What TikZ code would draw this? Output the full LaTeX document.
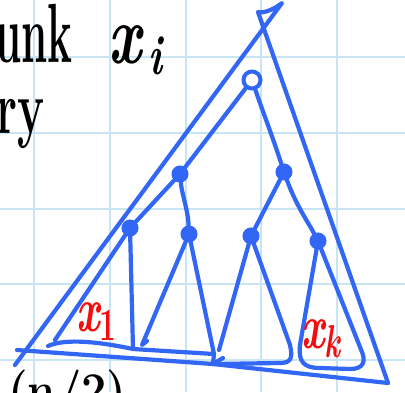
\documentclass[tikz,border=0pt]{standalone}
\usepackage{fontspec}
\usepackage{graphicx}
\definecolor{penblue}{RGB}{50,102,245}
\definecolor{gridblue}{RGB}{200,229,246}
\definecolor{penred}{RGB}{245,12,12}
\begin{document}
\begin{tikzpicture}[x=1pt,y=-1pt,
  gridline/.style={draw=gridblue,line width=2pt},
  pen/.style={draw=penblue,line width=4.2pt,line cap=round,line join=round},
  treenode/.style={circle,draw=penblue,fill=penblue,line width=4pt,inner sep=0pt,minimum size=13pt},
  rootnode/.style={circle,draw=penblue,line width=4pt,inner sep=0pt,minimum size=17pt},
  ink/.style={inner sep=0pt,text=black},
  redlabel/.style={inner sep=0pt,text=penred,font=\fontsize{64}{64}\selectfont\bfseries\itshape}]
\useasboundingbox (0,0) rectangle (405,392);
\clip (0,0) rectangle (405,392);
% grid paper
\foreach \gx in {34,110,186,261,337} \draw[gridline] (\gx,0) -- (\gx,392);
\foreach \gy in {57,133,209,284,360} \draw[gridline] (0,\gy) -- (405,\gy);
% handwritten black text
\node[ink,anchor=base east,font=\fontsize{84}{84}\selectfont\bfseries] (unk) at (73,62) {\scalebox{0.5}[1]{unk}};
\node[ink,anchor=base west,font=\fontsize{84}{84}\selectfont\bfseries\itshape] (xi) at (108,63) {\scalebox{0.7}[1]{x\hspace{10pt}\raisebox{-11pt}{\fontsize{56}{56}\selectfont i}}};
\node[ink,anchor=base east,font=\fontsize{76}{76}\selectfont\bfseries] (ry) at (45,133) {\scalebox{0.6}[1]{ry}};
\node[ink,anchor=base west,font=\fontsize{50}{50}\selectfont\bfseries] (half) at (8,407) {\scalebox{0.9}[1]{(n/2)}};
% big triangle
\coordinate (bl) at (15,365);
\coordinate (apl) at (282,3);
\coordinate (apr) at (258,12);
\coordinate (br) at (388,383);
\coordinate (bs) at (17,350);
\coordinate (bm) at (213,364);
\draw[pen] (bl) -- (apl) .. controls (276,8) and (264,14) .. (apr) -- (br);
\draw[pen] (bs) -- (bm) -- (br);
% tree nodes
\node[rootnode] (r) at (252,80) {};
\node[treenode] (a) at (180,174) {};
\node[treenode] (b) at (284,172) {};
\node[treenode] (A) at (130,228) {};
\node[treenode] (B) at (189,234) {};
\node[treenode] (C) at (251,236) {};
\node[treenode] (D) at (318,241) {};
% tree edges
\draw[pen] (r) -- (a);
\draw[pen] (r) .. controls (264,115) and (272,135) .. (b);
\draw[pen] (a) -- (A);
\draw[pen] (a) .. controls (182,195) and (188,210) .. (B);
\draw[pen] (b) -- (C);
\draw[pen] (b) .. controls (296,205) and (308,222) .. (D);
% leaf cones
\coordinate (A1) at (55,340);
\coordinate (A2) at (133,349);
\coordinate (A0) at (48,346);
\coordinate (B1) at (142,345);
\coordinate (B2) at (214,354);
\coordinate (C1) at (219,350);
\coordinate (C2) at (290,345);
\coordinate (D1) at (300,345);
\coordinate (D2) at (362,352);
\draw[pen] (A) -- (A1);
\draw[pen] (A) -- (A2);
\draw[pen] (A0) .. controls (66,338) and (100,342) .. (A2) -- (B2) -- (bm);
\draw[pen] (B) -- (B1) -- ++(5,-4);
\draw[pen] (B) -- (B2);
\draw[pen] (C) -- (C1);
\draw[pen] (bm) -- ++(10,-6);
\draw[pen] (C) -- (C2) .. controls (293,358) and (291,363) .. (280,363) -- (bm);
\draw[pen] (D) -- (D1) .. controls (298,362) and (304,368) .. (320,368) -- (350,369) .. controls (363,369) and (366,362) .. (D2) -- (D);
% red labels
\node[redlabel,anchor=base west] (x1) at (76,331) {\scalebox{0.65}[1]{x\raisebox{-9pt}{\fontsize{46}{46}\selectfont\upshape 1}}};
\node[redlabel,anchor=base west] (xk) at (301,348) {\scalebox{0.65}[1]{x\raisebox{-9pt}{\fontsize{46}{46}\selectfont k}}};
\end{tikzpicture}
\end{document}
